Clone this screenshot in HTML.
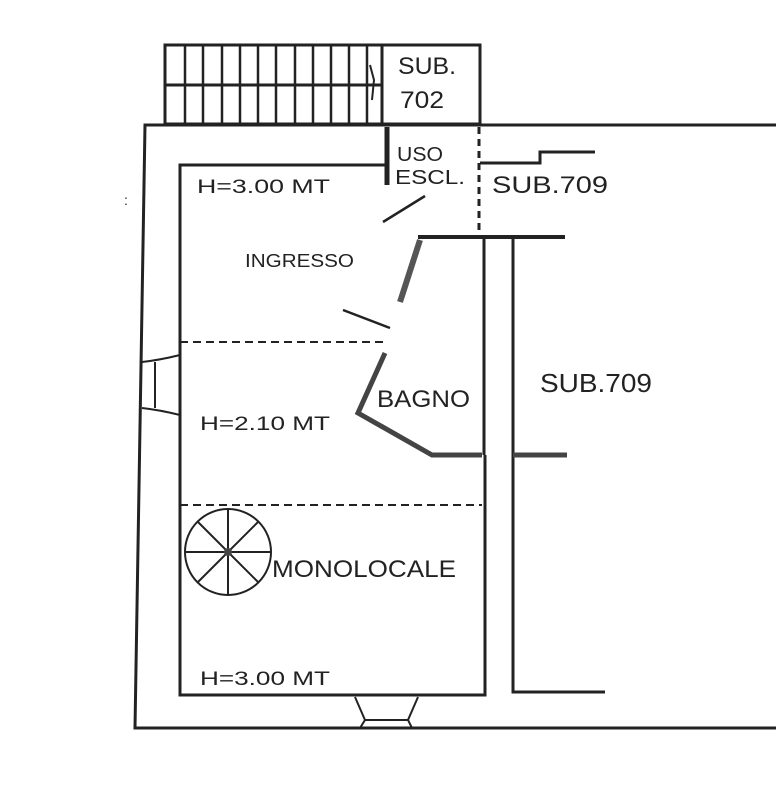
<!DOCTYPE html>
<html><head><style>body{margin:0;background:#fff}svg{display:block}text{font-family:"Liberation Sans",sans-serif;fill:#222}</style></head>
<body>
<svg width="776" height="790" viewBox="0 0 776 790" xmlns="http://www.w3.org/2000/svg">
<g stroke="#222" stroke-width="3" fill="none">
<rect x="165" y="45" width="315" height="79"/>
<line x1="165" y1="85" x2="382" y2="85"/>
<line x1="382" y1="45" x2="382" y2="124"/>
<g stroke-width="2.5">
<line x1="185" y1="45" x2="185" y2="124"/><line x1="203" y1="45" x2="203" y2="124"/>
<line x1="222" y1="45" x2="222" y2="124"/><line x1="240" y1="45" x2="240" y2="124"/>
<line x1="258" y1="45" x2="258" y2="124"/><line x1="276" y1="45" x2="276" y2="124"/>
<line x1="295" y1="45" x2="295" y2="124"/><line x1="313" y1="45" x2="313" y2="124"/>
<line x1="331" y1="45" x2="331" y2="124"/><line x1="349" y1="45" x2="349" y2="124"/>
<line x1="367" y1="45" x2="367" y2="124"/>
</g>
<path d="M370 65 L374 80 L372 100" stroke-width="2"/>
<path d="M776 125 L145 125 L135 728 L776 728"/>
<path d="M387 165 L180 165 L180 695 L485 695 L485 455"/>
<line x1="484" y1="235" x2="484" y2="455"/>
<line x1="387" y1="127" x2="387" y2="185" stroke-width="5"/>
<line x1="479" y1="127" x2="479" y2="235" stroke-dasharray="7,5"/>
<path d="M480 163 L540 163 L540 152 L595 152"/>
<line x1="418" y1="237" x2="565" y2="237" stroke-width="4"/>
<path d="M513 237 L513 692 L605 692"/>
<line x1="420" y1="240" x2="400" y2="302" stroke-width="6" stroke="#555"/>
<line x1="383" y1="222" x2="425" y2="196" stroke-width="2.5"/>
<line x1="343" y1="310" x2="390" y2="328" stroke-width="2.5"/>
<line x1="180" y1="342" x2="385" y2="342" stroke-dasharray="8,5" stroke-width="2"/>
<path d="M385 353 L358 413 L432 455 L482 455" stroke-width="5" stroke="#444"/>
<line x1="513" y1="455" x2="567" y2="455" stroke-width="5" stroke="#444"/>
<line x1="180" y1="505" x2="482" y2="505" stroke-dasharray="8,5" stroke-width="2"/>
<path d="M142 362 Q160 360 180 355 M142 408 Q160 410 180 415" stroke-width="2"/>
<line x1="155" y1="362" x2="155" y2="408" stroke-width="2"/>
<path d="M355 697 L365 720 L360 728 M418 697 L408 720 L412 728 M365 720 L408 720" stroke-width="2"/>
<circle cx="228" cy="552" r="43" stroke-width="2"/>
<g stroke-width="2"><line x1="185" y1="552" x2="271" y2="552"/><line x1="228" y1="509" x2="228" y2="595"/>
<line x1="198" y1="522" x2="258" y2="582"/><line x1="198" y1="582" x2="258" y2="522"/></g>
</g>
<circle cx="228" cy="552" r="4" fill="#444"/>
<text x="124" y="205" font-size="14">:</text>
<text x="398" y="74" font-size="24" textLength="58" lengthAdjust="spacingAndGlyphs">SUB.</text>
<text x="400" y="108" font-size="24" textLength="44" lengthAdjust="spacingAndGlyphs">702</text>
<text x="397" y="161" font-size="20" textLength="46" lengthAdjust="spacingAndGlyphs">USO</text>
<text x="395" y="184" font-size="20" textLength="70" lengthAdjust="spacingAndGlyphs">ESCL.</text>
<text x="197" y="193" font-size="19" textLength="133" lengthAdjust="spacingAndGlyphs">H=3.00 MT</text>
<text x="492" y="193" font-size="24" textLength="116" lengthAdjust="spacingAndGlyphs">SUB.709</text>
<text x="245" y="267" font-size="18" textLength="109" lengthAdjust="spacingAndGlyphs">INGRESSO</text>
<text x="377" y="407" font-size="24" textLength="93" lengthAdjust="spacingAndGlyphs">BAGNO</text>
<text x="540" y="392" font-size="26" textLength="112" lengthAdjust="spacingAndGlyphs">SUB.709</text>
<text x="200" y="430" font-size="19" textLength="130" lengthAdjust="spacingAndGlyphs">H=2.10 MT</text>
<text x="272" y="577" font-size="24" textLength="184" lengthAdjust="spacingAndGlyphs">MONOLOCALE</text>
<text x="200" y="685" font-size="19" textLength="130" lengthAdjust="spacingAndGlyphs">H=3.00 MT</text>
</svg>
</body></html>
